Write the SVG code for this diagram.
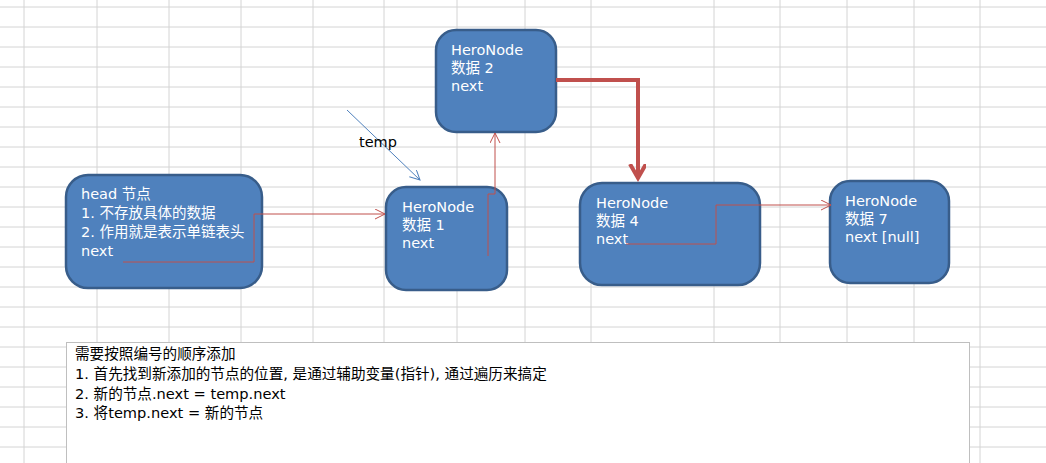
<svg xmlns="http://www.w3.org/2000/svg" width="1046" height="463" viewBox="0 0 1046 463">
<defs>
<style>
.grid line{stroke:#d4d4d4;stroke-width:1}
.node rect{fill:#4f81bd;stroke:#385d8a;stroke-width:2.5}
.node text{fill:#fff;font-family:"DejaVu Sans","Noto Sans CJK SC",sans-serif;font-size:14.5px}
.thin{fill:none;stroke:#c0504d;stroke-width:1}
.note text{font-family:"DejaVu Sans","Noto Sans CJK SC",sans-serif;font-size:14.6px;fill:#000}
</style>
<marker id="oa" markerWidth="12" markerHeight="12" refX="10" refY="5" orient="auto" markerUnits="userSpaceOnUse"><path d="M0,0 L10,5 L0,10" fill="none" stroke="#c0504d" stroke-width="1"/></marker>
<marker id="ob" markerWidth="12" markerHeight="12" refX="10" refY="5" orient="auto" markerUnits="userSpaceOnUse"><path d="M0,0 L10,5 L0,10" fill="none" stroke="#4f81bd" stroke-width="1"/></marker>
<marker id="big" markerWidth="20" markerHeight="20" refX="14" refY="8" orient="auto" markerUnits="userSpaceOnUse"><path d="M0,0 L14,8 L0,16" fill="none" stroke="#c0504d" stroke-width="4"/></marker>
</defs>
<rect width="1046" height="463" fill="#fff"/>
<g class="grid">
<line x1="24" y1="0" x2="24" y2="463"/><line x1="97" y1="0" x2="97" y2="463"/><line x1="169" y1="0" x2="169" y2="463"/><line x1="241" y1="0" x2="241" y2="463"/><line x1="313" y1="0" x2="313" y2="463"/><line x1="384" y1="0" x2="384" y2="463"/><line x1="457" y1="0" x2="457" y2="463"/><line x1="525" y1="0" x2="525" y2="463"/><line x1="591" y1="0" x2="591" y2="463"/><line x1="714" y1="0" x2="714" y2="463"/><line x1="780" y1="0" x2="780" y2="463"/><line x1="847" y1="0" x2="847" y2="463"/><line x1="914" y1="0" x2="914" y2="463"/><line x1="980" y1="0" x2="980" y2="463"/>
<line x1="0" y1="7" x2="1046" y2="7"/><line x1="0" y1="27" x2="1046" y2="27"/><line x1="0" y1="47" x2="1046" y2="47"/><line x1="0" y1="67" x2="1046" y2="67"/><line x1="0" y1="87" x2="1046" y2="87"/><line x1="0" y1="107" x2="1046" y2="107"/><line x1="0" y1="127" x2="1046" y2="127"/><line x1="0" y1="147" x2="1046" y2="147"/><line x1="0" y1="167" x2="1046" y2="167"/><line x1="0" y1="187" x2="1046" y2="187"/><line x1="0" y1="207" x2="1046" y2="207"/><line x1="0" y1="227" x2="1046" y2="227"/><line x1="0" y1="247" x2="1046" y2="247"/><line x1="0" y1="267" x2="1046" y2="267"/><line x1="0" y1="287" x2="1046" y2="287"/><line x1="0" y1="307" x2="1046" y2="307"/><line x1="0" y1="327" x2="1046" y2="327"/><line x1="0" y1="347" x2="1046" y2="347"/><line x1="0" y1="367" x2="1046" y2="367"/><line x1="0" y1="387" x2="1046" y2="387"/><line x1="0" y1="407" x2="1046" y2="407"/><line x1="0" y1="427" x2="1046" y2="427"/><line x1="0" y1="447" x2="1046" y2="447"/>
</g>
<g id="head" class="node"><rect x="66" y="175" width="196" height="113" rx="22"/>
<text x="81" y="199">head 节点</text><text x="81" y="218">1. 不存放具体的数据</text><text x="81" y="237">2. 作用就是表示单链表头</text><text x="81" y="256">next</text></g>
<g id="node1" class="node"><rect x="386" y="187" width="121" height="103" rx="20"/>
<text x="402" y="212">HeroNode</text><text x="402" y="230">数据 1</text><text x="402" y="248">next</text></g>
<g id="node2" class="node"><rect x="436" y="30" width="120" height="102" rx="20"/>
<text x="451" y="55">HeroNode</text><text x="451" y="73">数据 2</text><text x="451" y="91">next</text></g>
<g id="node4" class="node"><rect x="580" y="183" width="180" height="102" rx="22"/>
<text x="596" y="208">HeroNode</text><text x="596" y="226">数据 4</text><text x="596" y="244">next</text></g>
<g id="node7" class="node"><rect x="830" y="181" width="119" height="102" rx="20"/>
<text x="845" y="206">HeroNode</text><text x="845" y="224">数据 7</text><text x="845" y="242">next [null]</text></g>
<g id="connectors">
<path class="thin" d="M123,262 H254 V214 H385" marker-end="url(#oa)"/>
<path class="thin" d="M488,256 V194 H495 V133" marker-end="url(#oa)"/>
<path class="thin" d="M626,244 H716 V205 H831" marker-end="url(#oa)"/>
<path d="M556,80 H638 V178" fill="none" stroke="#c0504d" stroke-width="4" marker-end="url(#big)"/>
<path d="M347,110 L420,180" fill="none" stroke="#4f81bd" stroke-width="1" marker-end="url(#ob)"/>
<text x="359" y="147" font-family="DejaVu Sans,sans-serif" font-size="14.5" fill="#000">temp</text>
</g>
<g id="note" class="note"><rect x="66.5" y="342.5" width="903" height="125" fill="#fff" stroke="#bfbfbf"/>
<text x="75" y="359">需要按照编号的顺序添加</text><text x="75" y="379">1. 首先找到新添加的节点的位置, 是通过辅助变量(指针), 通过遍历来搞定</text><text x="75" y="399">2. 新的节点.next = temp.next</text><text x="75" y="418">3. 将temp.next = 新的节点</text></g>
</svg>
